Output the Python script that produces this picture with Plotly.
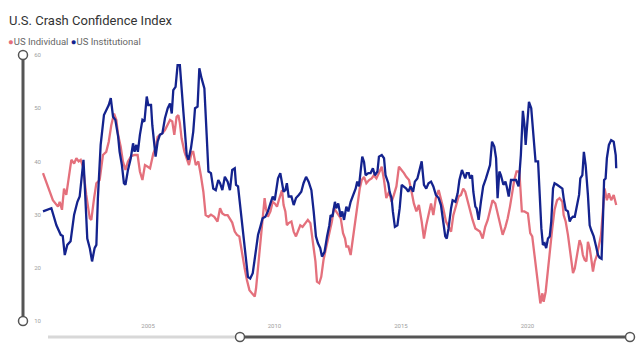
import plotly.graph_objects as go
import pandas as pd

title_text = "U.S. Crash Confidence Index"
series_names = ["US Individual", "US Institutional"]
y_ticks = [10, 20, 30, 40, 50, 60]
x_tick_years = [2005, 2010, 2015, 2020]

ind_years = [2000.85, 2001.24, 2001.44, 2001.51, 2001.60, 2001.68, 2001.77, 2001.90, 2001.97, 2002.08,
             2002.17, 2002.26, 2002.34, 2002.43, 2002.56, 2002.70, 2002.76, 2002.87, 2002.96, 2003.09,
             2003.22, 2003.35, 2003.45, 2003.55, 2003.66, 2003.75, 2003.82, 2003.92, 2004.01, 2004.11,
             2004.21, 2004.34, 2004.47, 2004.59, 2004.68, 2004.78, 2004.88, 2004.99, 2005.08, 2005.14,
             2005.21, 2005.30, 2005.38, 2005.47, 2005.57, 2005.67, 2005.78, 2005.87, 2005.96, 2006.04,
             2006.13, 2006.20, 2006.26, 2006.33, 2006.44, 2006.53, 2006.62, 2006.73, 2006.79, 2006.89,
             2006.99, 2007.09, 2007.19, 2007.28, 2007.39, 2007.49, 2007.62, 2007.75, 2007.85, 2007.94,
             2008.04, 2008.15, 2008.24, 2008.33, 2008.43, 2008.52, 2008.61, 2008.72, 2008.82, 2008.91,
             2009.01, 2009.11, 2009.22, 2009.27, 2009.35, 2009.44, 2009.53, 2009.61, 2009.66, 2009.74,
             2009.84, 2009.93, 2010.01, 2010.10, 2010.17, 2010.23, 2010.30, 2010.36, 2010.43, 2010.49,
             2010.56, 2010.67, 2010.76, 2010.85, 2010.93, 2011.02, 2011.11, 2011.22, 2011.32, 2011.42,
             2011.51, 2011.62, 2011.68, 2011.77, 2011.85, 2011.94, 2012.04, 2012.14, 2012.27, 2012.35,
             2012.44, 2012.55, 2012.62, 2012.71, 2012.79, 2012.84, 2012.92, 2013.01, 2013.08, 2013.18,
             2013.27, 2013.37, 2013.45, 2013.54, 2013.63, 2013.74, 2013.84, 2013.93, 2014.03, 2014.13,
             2014.24, 2014.33, 2014.42, 2014.53, 2014.63, 2014.72, 2014.82, 2014.92, 2015.03, 2015.12,
             2015.21, 2015.32, 2015.42, 2015.51, 2015.61, 2015.71, 2015.82, 2015.91, 2016.00, 2016.09,
             2016.19, 2016.28, 2016.38, 2016.49, 2016.58, 2016.67, 2016.78, 2016.88, 2016.98, 2017.07,
             2017.17, 2017.28, 2017.37, 2017.46, 2017.54, 2017.64, 2017.73, 2017.83, 2017.94, 2018.03,
             2018.12, 2018.23, 2018.33, 2018.43, 2018.52, 2018.62, 2018.73, 2018.82, 2018.91, 2019.02,
             2019.13, 2019.22, 2019.31, 2019.41, 2019.48, 2019.57, 2019.68, 2019.78, 2019.88, 2020.02,
             2020.11, 2020.19, 2020.28, 2020.38, 2020.45, 2020.51, 2020.59, 2020.64, 2020.72, 2020.81,
             2020.90, 2020.98, 2021.07, 2021.17, 2021.27, 2021.38, 2021.43, 2021.51, 2021.60, 2021.67,
             2021.73, 2021.80, 2021.87, 2021.93, 2022.00, 2022.06, 2022.13, 2022.19, 2022.26, 2022.33,
             2022.39, 2022.46, 2022.52, 2022.59, 2022.66, 2022.75, 2022.83, 2022.91, 2022.99, 2023.05,
             2023.14, 2023.22, 2023.31, 2023.41, 2023.51]
ind_values = [37.8, 32.7, 31.5, 32.4, 30.9, 34.9, 33.7, 38.7, 40.3, 39.6,
              40.6, 40.0, 40.3, 39.0, 33.7, 29.3, 29.0, 33.1, 35.9, 36.5,
              41.2, 41.8, 43.7, 46.8, 49.0, 47.8, 45.0, 42.8, 40.0, 38.4,
              40.0, 41.0, 41.2, 41.2, 38.1, 36.5, 39.3, 39.0, 38.7, 40.0,
              41.5, 42.5, 44.6, 45.0, 45.3, 45.9, 46.8, 47.8, 47.5, 45.0,
              48.4, 48.7, 47.2, 44.3, 41.8, 40.3, 39.3, 41.8, 41.8, 39.3,
              40.0, 37.4, 34.3, 29.9, 29.6, 30.0, 29.6, 28.7, 31.2, 30.2,
              29.9, 29.9, 29.3, 28.5, 26.8, 26.2, 25.9, 22.4, 19.9, 17.7,
              15.8, 15.2, 14.6, 16.1, 19.9, 24.9, 29.0, 33.1, 31.2, 29.6,
              30.6, 32.4, 32.1, 31.5, 32.7, 33.7, 34.6, 31.8, 30.6, 28.0,
              28.4, 28.7, 26.8, 25.9, 26.8, 28.0, 27.7, 28.4, 29.0, 28.4,
              25.5, 21.2, 17.4, 17.1, 18.3, 21.5, 23.7, 25.9, 28.7, 31.2,
              30.6, 29.9, 29.3, 26.5, 25.5, 24.0, 24.0, 22.4, 24.9, 28.0,
              31.8, 34.9, 36.5, 37.1, 35.9, 36.5, 36.8, 37.4, 36.8, 37.8,
              39.0, 36.5, 33.1, 34.3, 32.4, 33.7, 35.3, 39.0, 38.4, 37.8,
              37.1, 36.5, 34.3, 32.1, 30.6, 31.8, 28.7, 25.5, 28.0, 29.9,
              32.1, 29.9, 33.1, 34.6, 33.1, 31.2, 28.7, 27.7, 26.8, 29.9,
              31.8, 33.4, 33.7, 34.9, 34.3, 32.4, 30.9, 29.0, 27.4, 27.1,
              26.8, 25.5, 27.7, 29.0, 30.9, 32.7, 32.1, 30.2, 28.4, 26.2,
              27.7, 29.3, 31.5, 34.3, 36.5, 38.1, 38.1, 30.6, 30.6, 30.2,
              26.5, 25.9, 22.4, 19.3, 15.5, 13.3, 15.2, 13.6, 15.5, 19.9,
              23.7, 27.4, 30.9, 32.7, 33.1, 32.4, 29.9, 28.7, 26.2, 23.7,
              21.2, 19.0, 19.9, 21.8, 23.7, 25.2, 24.3, 22.4, 21.5, 21.2,
              24.9, 23.7, 21.8, 19.3, 21.2, 22.4, 24.3, 26.2, 31.2, 34.9,
              32.7, 34.0, 32.7, 33.7, 31.8]

inst_years = [2000.85, 2001.18, 2001.38, 2001.55, 2001.63, 2001.71, 2001.81, 2001.94, 2002.08, 2002.21,
              2002.30, 2002.37, 2002.45, 2002.50, 2002.60, 2002.70, 2002.79, 2002.89, 2002.96, 2003.02,
              2003.13, 2003.26, 2003.35, 2003.45, 2003.53, 2003.62, 2003.71, 2003.82, 2003.88, 2003.97,
              2004.05, 2004.11, 2004.21, 2004.32, 2004.41, 2004.47, 2004.54, 2004.60, 2004.68, 2004.78,
              2004.86, 2004.95, 2005.01, 2005.12, 2005.17, 2005.25, 2005.30, 2005.38, 2005.47, 2005.57,
              2005.67, 2005.78, 2005.87, 2005.94, 2006.00, 2006.09, 2006.17, 2006.26, 2006.33, 2006.40,
              2006.46, 2006.53, 2006.60, 2006.70, 2006.79, 2006.86, 2006.96, 2007.03, 2007.12, 2007.23,
              2007.32, 2007.39, 2007.49, 2007.58, 2007.68, 2007.78, 2007.85, 2007.94, 2008.04, 2008.15,
              2008.24, 2008.33, 2008.43, 2008.48, 2008.56, 2008.61, 2008.69, 2008.78, 2008.87, 2008.95,
              2009.04, 2009.14, 2009.24, 2009.35, 2009.44, 2009.53, 2009.64, 2009.74, 2009.84, 2009.93,
              2010.01, 2010.06, 2010.14, 2010.23, 2010.30, 2010.36, 2010.43, 2010.49, 2010.56, 2010.67,
              2010.76, 2010.85, 2010.96, 2011.06, 2011.15, 2011.25, 2011.35, 2011.46, 2011.55, 2011.64,
              2011.72, 2011.81, 2011.88, 2011.98, 2012.08, 2012.17, 2012.22, 2012.29, 2012.39, 2012.44,
              2012.52, 2012.62, 2012.68, 2012.75, 2012.84, 2012.92, 2013.01, 2013.10, 2013.21, 2013.27,
              2013.34, 2013.41, 2013.47, 2013.54, 2013.60, 2013.71, 2013.80, 2013.89, 2013.97, 2014.07,
              2014.13, 2014.24, 2014.33, 2014.39, 2014.50, 2014.55, 2014.63, 2014.68, 2014.76, 2014.86,
              2014.95, 2015.03, 2015.12, 2015.21, 2015.29, 2015.38, 2015.48, 2015.55, 2015.65, 2015.74,
              2015.82, 2015.91, 2016.00, 2016.09, 2016.19, 2016.28, 2016.38, 2016.49, 2016.58, 2016.67,
              2016.75, 2016.81, 2016.88, 2016.98, 2017.04, 2017.15, 2017.24, 2017.31, 2017.41, 2017.46,
              2017.54, 2017.60, 2017.68, 2017.73, 2017.81, 2017.86, 2017.94, 2017.99, 2018.07, 2018.16,
              2018.25, 2018.36, 2018.47, 2018.52, 2018.60, 2018.69, 2018.76, 2018.82, 2018.89, 2018.95,
              2019.05, 2019.13, 2019.18, 2019.26, 2019.35, 2019.44, 2019.55, 2019.65, 2019.74, 2019.82,
              2019.88, 2019.93, 2020.06, 2020.15, 2020.22, 2020.28, 2020.32, 2020.42, 2020.48, 2020.55,
              2020.61, 2020.68, 2020.74, 2020.81, 2020.88, 2020.94, 2021.01, 2021.07, 2021.17, 2021.27,
              2021.38, 2021.43, 2021.51, 2021.60, 2021.67, 2021.73, 2021.80, 2021.87, 2021.93, 2022.04,
              2022.09, 2022.17, 2022.23, 2022.30, 2022.39, 2022.46, 2022.52, 2022.62, 2022.70, 2022.79,
              2022.85, 2022.93, 2022.99, 2023.03, 2023.09, 2023.14, 2023.22, 2023.31, 2023.41, 2023.49,
              2023.51]
inst_values = [30.6, 31.2, 28.0, 26.2, 26.0, 22.4, 24.3, 25.0, 30.0, 32.4,
               33.4, 36.2, 40.3, 35.6, 25.5, 23.7, 21.2, 23.7, 24.3, 33.1,
               43.1, 48.7, 49.7, 50.6, 51.9, 48.4, 47.8, 44.7, 41.8, 39.3,
               35.9, 35.6, 38.4, 40.6, 43.4, 41.8, 43.1, 41.8, 45.0, 47.8,
               47.5, 52.2, 50.6, 50.6, 46.8, 43.1, 40.9, 43.7, 45.0, 45.3,
               48.1, 50.0, 50.9, 49.0, 53.4, 54.0, 58.1, 58.1, 54.4, 49.3,
               45.6, 41.2, 40.3, 42.5, 45.6, 50.0, 50.3, 57.5, 55.6, 53.7,
               45.0, 38.1, 37.8, 34.9, 34.6, 36.5, 35.9, 34.6, 37.1, 36.2,
               34.6, 38.4, 38.7, 35.6, 35.3, 33.1, 29.3, 24.9, 21.2, 18.3,
               18.0, 19.0, 22.4, 26.2, 27.7, 29.3, 29.6, 30.6, 32.1, 33.4,
               32.7, 34.3, 36.8, 37.8, 35.9, 34.3, 34.6, 35.9, 33.4, 33.4,
               31.8, 33.1, 33.7, 34.3, 35.9, 37.1, 36.2, 34.6, 30.6, 25.9,
               24.6, 23.7, 22.1, 23.0, 25.9, 28.0, 29.9, 29.6, 32.4, 31.2,
               32.1, 29.6, 30.6, 29.0, 31.5, 30.6, 32.4, 33.4, 34.9, 36.2,
               35.3, 38.4, 40.9, 39.9, 37.4, 37.8, 37.8, 38.7, 37.4, 38.1,
               40.9, 41.2, 40.6, 37.4, 35.9, 34.3, 33.1, 30.6, 27.7, 28.0,
               31.2, 35.6, 35.3, 34.9, 34.3, 35.3, 34.3, 36.2, 36.8, 38.7,
               40.0, 35.6, 34.9, 35.9, 36.2, 35.3, 33.7, 33.1, 31.8, 28.7,
               25.9, 25.5, 27.4, 31.2, 32.7, 32.4, 34.0, 36.5, 38.4, 37.8,
               36.8, 37.8, 37.8, 36.8, 37.4, 34.3, 31.5, 31.2, 29.0, 32.4,
               35.3, 36.8, 38.4, 39.3, 43.7, 42.8, 40.6, 33.1, 38.1, 37.4,
               35.6, 36.2, 35.3, 33.4, 36.5, 36.5, 36.5, 35.3, 41.2, 49.5,
               47.0, 43.1, 51.2, 50.0, 45.6, 41.8, 40.0, 40.0, 33.7, 27.4,
               24.3, 24.6, 23.7, 25.5, 25.9, 28.7, 34.9, 35.9, 35.6, 35.3,
               34.9, 33.1, 30.9, 30.6, 28.7, 29.3, 29.6, 29.6, 31.2, 33.7,
               36.8, 37.4, 41.8, 39.3, 33.7, 28.0, 27.1, 25.9, 24.3, 22.4,
               21.9, 21.7, 29.9, 36.5, 36.8, 40.6, 43.1, 44.0, 43.7, 41.2,
               38.7]

colors = ["#E4707C", "#14238E"]


def to_date(dec):
    y = int(dec)
    start = pd.Timestamp(year=y, month=1, day=1)
    end = pd.Timestamp(year=y + 1, month=1, day=1)
    return start + (end - start) * (dec - y)


fig = go.Figure()
for name, yrs, vals, col in [(series_names[0], ind_years, ind_values, colors[0]),
                             (series_names[1], inst_years, inst_values, colors[1])]:
    fig.add_trace(go.Scatter(x=[to_date(v) for v in yrs], y=vals, mode="lines", name=name,
                             line=dict(color=col, width=2.3), showlegend=False))

# plot-area geometry (pixels)
W, H = 637, 358
L, R, T, B = 42, 19, 55, 37
pw, ph = W - L - R, H - T - B

x_start = to_date(2000.81)
x_end = to_date(2023.58)

fig.update_layout(
    width=W, height=H,
    margin=dict(l=L, r=R, t=T, b=B, pad=0),
    paper_bgcolor="white", plot_bgcolor="white",
    font=dict(family="Roboto, 'Open Sans', sans-serif", color="#999999"),
    xaxis=dict(type="date", range=[x_start, x_end], showgrid=False, zeroline=False,
               showline=False, ticks="",
               tickvals=[pd.Timestamp(year=y, month=1, day=1) for y in x_tick_years],
               ticktext=[str(y) for y in x_tick_years],
               tickfont=dict(size=6, color="#a0a0a0")),
    yaxis=dict(range=[10, 60], showgrid=False, zeroline=False, showline=False, ticks="",
               tickvals=y_ticks, ticktext=[str(v) for v in y_ticks],
               tickfont=dict(size=6, color="#a0a0a0")),
    showlegend=False,
)

fig.add_annotation(xref="paper", yref="paper", x=-(L - 7) / pw, y=1 + (T - 20) / ph,
                   xanchor="left", yanchor="middle", showarrow=False,
                   text=title_text, font=dict(size=13, color="#333333",
                                              family="Roboto, 'Open Sans', sans-serif"))
legend_html = (f"<span style='color:{colors[0]}'>●</span>{series_names[0]} "
               f"<span style='color:{colors[1]}'>●</span>{series_names[1]}")
fig.add_annotation(xref="paper", yref="paper", x=-(L - 6) / pw, y=1 + (T - 42) / ph,
                   xanchor="left", yanchor="middle", showarrow=False,
                   text=legend_html, font=dict(size=9.5, color="#666666",
                                               family="Roboto, 'Open Sans', sans-serif"))

# vertical zoom slider (left)
sx = (23 - L) / pw
fig.add_shape(type="line", xref="paper", yref="paper", x0=sx, x1=sx, y0=0, y1=1,
              line=dict(color="#555555", width=3), layer="above")
for yy in (0, 1):
    fig.add_shape(type="circle", xref="paper", yref="paper", xsizemode="pixel", ysizemode="pixel",
                  xanchor=sx, yanchor=yy, x0=-4.5, x1=4.5, y0=-4.5, y1=4.5,
                  line=dict(color="#555555", width=1.5), fillcolor="white", layer="above")

# horizontal zoom slider (bottom)
sy = -(337 - (T + ph)) / ph
hx0 = (48 - L) / pw
hx1 = (240 - L) / pw
hx2 = (630 - L) / pw
fig.add_shape(type="line", xref="paper", yref="paper", x0=hx0, x1=hx1, y0=sy, y1=sy,
              line=dict(color="#d8d8d8", width=3), layer="above")
fig.add_shape(type="line", xref="paper", yref="paper", x0=hx1, x1=hx2, y0=sy, y1=sy,
              line=dict(color="#555555", width=3), layer="above")
for xx in (hx1, hx2):
    fig.add_shape(type="circle", xref="paper", yref="paper", xsizemode="pixel", ysizemode="pixel",
                  xanchor=xx, yanchor=sy, x0=-4.5, x1=4.5, y0=-4.5, y1=4.5,
                  line=dict(color="#555555", width=1.5), fillcolor="white", layer="above")

fig.write_html("out.html", config={"displayModeBar": False},
               post_script="document.body.style.margin='0px';")
